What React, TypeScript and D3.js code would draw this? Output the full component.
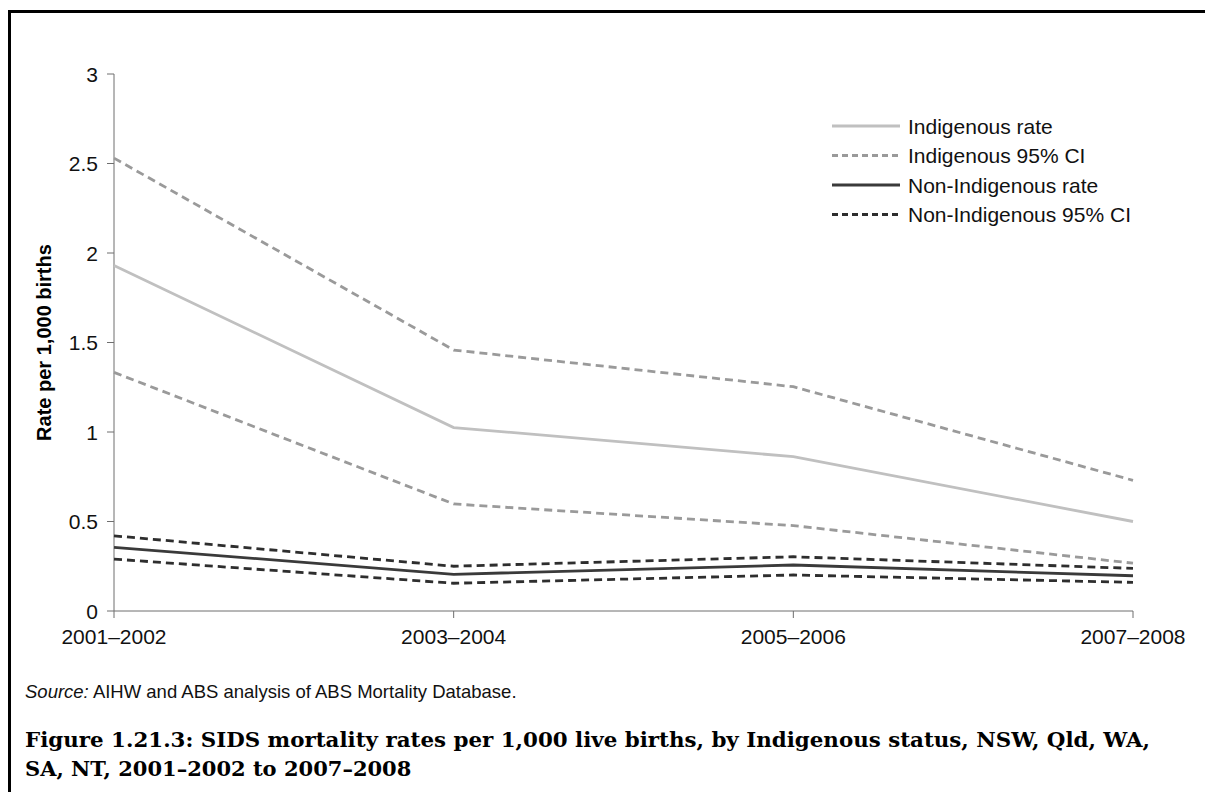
import { useMemo } from "react";
import * as d3 from "d3";

// --- data ---
const periods = ["2001–2002", "2003–2004", "2005–2006", "2007–2008"];
const indigenousRate = [1.93, 1.025, 0.862, 0.5];
const indigenousUpper = [2.53, 1.458, 1.253, 0.73];
const indigenousLower = [1.333, 0.598, 0.477, 0.267];
const nonIndigenousRate = [0.356, 0.205, 0.257, 0.197];
const nonIndigenousUpper = [0.42, 0.25, 0.303, 0.238];
const nonIndigenousLower = [0.29, 0.155, 0.201, 0.16];
const yTicks = [0, 0.5, 1, 1.5, 2, 2.5, 3];
const yTickLabels = ["0", "0.5", "1", "1.5", "2", "2.5", "3"];

const seriesList = [
  { name: "Indigenous rate", values: indigenousRate, color: "#c0c0c0", dash: null, width: 2.8 },
  { name: "Indigenous 95% CI", values: indigenousUpper, color: "#9a9a9a", dash: "8,5", width: 2.8, legend: true },
  { name: "Indigenous 95% CI lower", values: indigenousLower, color: "#9a9a9a", dash: "8,5", width: 2.8, legend: false },
  { name: "Non-Indigenous rate", values: nonIndigenousRate, color: "#3a3a3a", dash: null, width: 2.8 },
  { name: "Non-Indigenous 95% CI", values: nonIndigenousUpper, color: "#2e2e2e", dash: "8,5", width: 2.8, legend: true },
  { name: "Non-Indigenous 95% CI lower", values: nonIndigenousLower, color: "#2e2e2e", dash: "8,5", width: 2.8, legend: false },
];

const W = 1205;
const H = 792;
const sans = "'Liberation Sans', Arial, sans-serif";

export default function App() {
  const x = useMemo(() => d3.scalePoint<string>().domain(periods).range([114, 1133]), []);
  const y = useMemo(() => d3.scaleLinear().domain([0, 3]).range([611, 74]), []);

  const line = d3
    .line<number>()
    .x((_, i) => x(periods[i]) as number)
    .y((d) => y(d));

  const legendItems = seriesList.filter((s) => s.legend !== false);

  return (
    <svg
      width={W}
      height={H}
      style={{ position: "absolute", left: 0, top: 0, background: "#fff" }}
      fontFamily={sans}
    >
      <rect x={0} y={0} width={W} height={H} fill="#fff" />
      {/* frame: top and left edges */}
      <line x1={8} x2={W} y1={11.5} y2={11.5} stroke="#000" strokeWidth={3} />
      <line x1={9.5} x2={9.5} y1={10} y2={H} stroke="#000" strokeWidth={3} />

      {/* y axis */}
      <line x1={114} x2={114} y1={y(3)} y2={y(0)} stroke="#6e6e6e" strokeWidth={1} />
      {yTicks.map((t, i) => (
        <g key={t}>
          <line x1={107} x2={114} y1={y(t)} y2={y(t)} stroke="#6e6e6e" />
          <text x={98} y={y(t)} dy="0.36em" textAnchor="end" fontSize={21} fill="#111">
            {yTickLabels[i]}
          </text>
        </g>
      ))}
      <text
        transform={`translate(51,${(y(0) + y(3)) / 2}) rotate(-90)`}
        textAnchor="middle"
        fontSize={20}
        fontWeight="bold"
        fill="#000"
      >
        Rate per 1,000 births
      </text>

      {/* x axis */}
      <line x1={114} x2={1133} y1={y(0)} y2={y(0)} stroke="#6e6e6e" strokeWidth={1} />
      {periods.map((p) => (
        <g key={p}>
          <line x1={x(p)} x2={x(p)} y1={y(0)} y2={y(0) + 7} stroke="#6e6e6e" />
          <text x={x(p)} y={y(0) + 33} textAnchor="middle" fontSize={21} fill="#111">
            {p}
          </text>
        </g>
      ))}

      {/* lines */}
      {seriesList.map((s) => (
        <path
          key={s.name}
          d={line(s.values) as string}
          fill="none"
          stroke={s.color}
          strokeWidth={s.width}
          strokeDasharray={s.dash ?? undefined}
        />
      ))}

      {/* legend */}
      {legendItems.map((s, i) => {
        const ly = 126 + i * 29.5;
        return (
          <g key={s.name}>
            <line x1={832} x2={900} y1={ly} y2={ly} stroke={s.color} strokeWidth={s.width} strokeDasharray={s.dash ? "6,4" : undefined} />
            <text x={908} y={ly} dy="0.36em" fontSize={21} fill="#111">
              {s.name}
            </text>
          </g>
        );
      })}

      {/* source */}
      <text x={25} y={691} dy="0.36em" fontSize={18.5} fill="#111">
        <tspan fontStyle="italic">Source:</tspan> AIHW and ABS analysis of ABS Mortality Database.
      </text>

      {/* caption */}
      <g fontFamily="'DejaVu Serif', 'Liberation Serif', serif" fontWeight="bold" fontSize={21} fill="#000">
        <text x={25} y={747} textLength={1125} lengthAdjust="spacingAndGlyphs">
          Figure 1.21.3: SIDS mortality rates per 1,000 live births, by Indigenous status, NSW, Qld, WA,
        </text>
        <text x={25} y={776}>
          SA, NT, 2001–2002 to 2007–2008
        </text>
      </g>
    </svg>
  );
}
